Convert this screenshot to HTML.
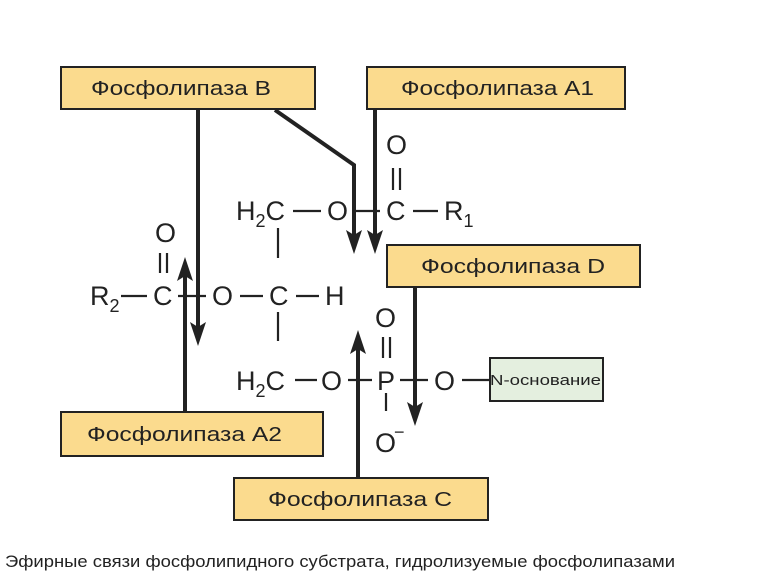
<!DOCTYPE html>
<html><head><meta charset="utf-8"><style>
html,body{margin:0;padding:0;background:#fff}
svg{display:block}
text{font-family:"Liberation Sans",sans-serif;fill:#222}
</style></head><body>
<svg width="765" height="584" viewBox="0 0 765 584" xmlns="http://www.w3.org/2000/svg">
<g fill="#fbdb8e" stroke="#222" stroke-width="2">
<rect x="61" y="67" width="254" height="42"/>
<rect x="367" y="67" width="258" height="42"/>
<rect x="387" y="245" width="253" height="42"/>
<rect x="61" y="412" width="262" height="44"/>
<rect x="234" y="478" width="254" height="42"/>
<rect x="490" y="358" width="113" height="43" fill="#e4efdf"/>
</g>
<g font-size="20">
<text x="91" y="95" textLength="180" lengthAdjust="spacingAndGlyphs">Фосфолипаза B</text>
<text x="401" y="95" textLength="193" lengthAdjust="spacingAndGlyphs">Фосфолипаза A1</text>
<text x="421" y="273" textLength="184" lengthAdjust="spacingAndGlyphs">Фосфолипаза D</text>
<text x="87" y="441" textLength="195" lengthAdjust="spacingAndGlyphs">Фосфолипаза A2</text>
<text x="268" y="506" textLength="184" lengthAdjust="spacingAndGlyphs">Фосфолипаза C</text>
</g>
<text x="490" y="385" font-size="15" textLength="111" lengthAdjust="spacingAndGlyphs">N-основание</text>
<g font-size="27">
<text x="236" y="220">H<tspan font-size="18" dy="7">2</tspan><tspan dy="-7">C</tspan></text>
<text x="327" y="220">O</text>
<text x="386" y="220">C</text>
<text x="444" y="220">R<tspan font-size="18" dy="7">1</tspan></text>
<text x="386" y="154">O</text>
<text x="155" y="242">O</text>
<text x="90" y="305">R<tspan font-size="18" dy="7">2</tspan></text>
<text x="153" y="305">C</text>
<text x="212" y="305">O</text>
<text x="269" y="305">C</text>
<text x="325" y="305">H</text>
<text x="236" y="390">H<tspan font-size="18" dy="7">2</tspan><tspan dy="-7">C</tspan></text>
<text x="321" y="390">O</text>
<text x="377" y="390">P</text>
<text x="434" y="390">O</text>
<text x="375" y="327">O</text>
<text x="375" y="452">O</text>
<text x="394" y="438" font-size="18">−</text>
</g>
<g stroke="#222" stroke-width="2.2" fill="none">
<line x1="293" y1="211" x2="321" y2="211"/>
<line x1="354" y1="211" x2="380" y2="211"/>
<line x1="413" y1="211" x2="438" y2="211"/>
<line x1="393" y1="168" x2="393" y2="190"/><line x1="400" y1="168" x2="400" y2="190"/>
<line x1="278" y1="228" x2="278" y2="258"/>
<line x1="278" y1="312" x2="278" y2="341"/>
<line x1="160" y1="253" x2="160" y2="273"/><line x1="167" y1="253" x2="167" y2="273"/>
<line x1="121" y1="296" x2="147" y2="296"/>
<line x1="178" y1="296" x2="206" y2="296"/>
<line x1="240" y1="296" x2="263" y2="296"/>
<line x1="296" y1="296" x2="319" y2="296"/>
<line x1="295" y1="380" x2="317" y2="380"/>
<line x1="348" y1="380" x2="372" y2="380"/>
<line x1="400" y1="380" x2="428" y2="380"/>
<line x1="462" y1="380" x2="489" y2="380"/>
<line x1="383" y1="337" x2="383" y2="358"/><line x1="390" y1="337" x2="390" y2="358"/>
<line x1="386" y1="393" x2="386" y2="411"/>
</g>
<g stroke="#222" stroke-width="4" fill="none">
<line x1="198" y1="109" x2="198" y2="330"/>
<polyline points="275,110 354,165 354,238"/>
<line x1="375" y1="109" x2="375" y2="238"/>
<line x1="185" y1="412" x2="185" y2="272"/>
<line x1="415" y1="287" x2="415" y2="410"/>
<line x1="358" y1="478" x2="358" y2="345"/>
</g>
<g fill="#222">
<polygon points="190,322 198,346 206,322 198,327"/>
<polygon points="346,230 354,254 362,230 354,235"/>
<polygon points="367,230 375,254 383,230 375,235"/>
<polygon points="177,281 185,257 193,281 185,276"/>
<polygon points="407,402 415,426 423,402 415,407"/>
<polygon points="350,354 358,330 366,354 358,349"/>
</g>
<text x="5" y="567" font-size="16.5" textLength="670" lengthAdjust="spacingAndGlyphs" fill="#000">Эфирные связи фосфолипидного субстрата, гидролизуемые фосфолипазами</text>
</svg>
</body></html>
